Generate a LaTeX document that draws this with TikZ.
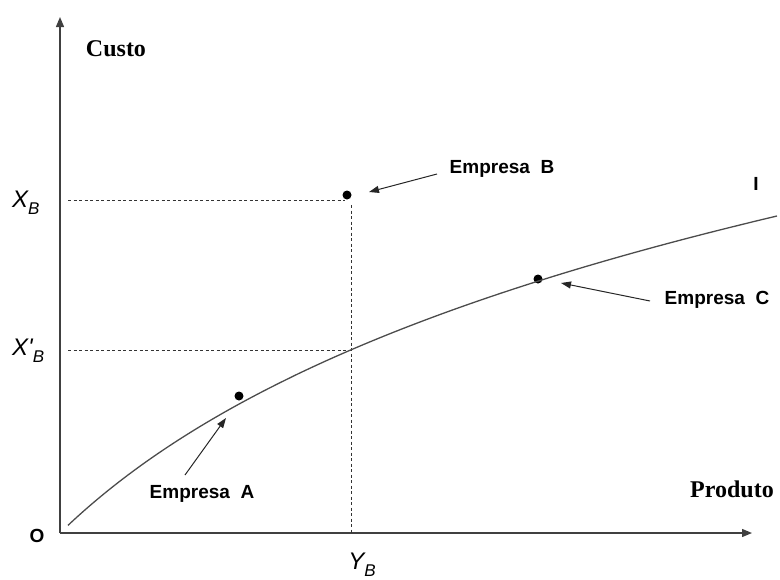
\documentclass[tikz,border=0pt]{standalone}
\usepackage{fontspec}
\setmainfont{Liberation Serif}
\newfontfamily\arialf{Liberation Sans}
\usetikzlibrary{arrows.meta}
\begin{document}
\begin{tikzpicture}[x=1pt,y=-1pt,
  axis/.style={draw=black!75, line width=1.3pt, -{Triangle[length=10pt,width=8pt]}},
  guide/.style={draw=black!80, line width=0.7pt, dash pattern=on 3pt off 2.5pt},
  curveline/.style={draw=black!70, line width=1.3pt},
  pointer/.style={draw=black!85, line width=1pt, -{Triangle[length=10pt,width=7pt]}},
  firm/.style={font=\arialf\bfseries\fontsize{19}{22}\selectfont, inner sep=0pt},
  serifl/.style={font=\bfseries\fontsize{24}{28}\selectfont, inner sep=0pt},
  mathl/.style={font=\arialf\itshape\fontsize{24}{28}\selectfont, inner sep=0pt},
  dot/.style={circle, fill=black, inner sep=0pt, minimum size=9pt}
]
\useasboundingbox (0,0) rectangle (780,579);
% axes
\coordinate (orig) at (60,533);
\coordinate (ytop) at (60,17);
\coordinate (xend) at (752,533);
\draw[axis] (orig) -- (ytop);
\draw[axis] (orig) -- (xend);
% dots
\node[dot] (pB) at (347,195) {};
\node[dot] (pC) at (538,279) {};
\node[dot] (pA) at (239,396) {};
% guide coordinates
\coordinate (gxb) at (68,200);
\coordinate (gxbe) at (345,200);
\coordinate (gxp) at (68,350);
\coordinate (gxpe) at (351,350);
\coordinate (gvt) at (351,205);
\coordinate (gvb) at (351,533);
\draw[guide] (gxb) -- (gxbe);
\draw[guide] (gxp) -- (gxpe);
\draw[guide] (gvt) -- (gvb);
% curve
\draw[curveline] plot[domain=68:777, samples=120, smooth] (\x, {533-224*ln(1+(\x-60)/230)});
% labels
\node[serifl] (custo) at (116,49) {Custo};
\node[serifl] (produto) at (732,489) {Produto};
\node[firm] (eB) at (502,169) {Empresa\ \ B};
\node[firm] (eC) at (717,300) {Empresa\ \ C};
\node[firm] (eA) at (202,494) {Empresa\ \ A};
\node[firm] (lO) at (37,536) {O};
\node[firm] (lI) at (756,184) {I};
\node[mathl, anchor=west] (xb) at (12,203) {X\raisebox{-0.3em}{\fontsize{17}{20}\selectfont B}};
\node[mathl, anchor=west] (xpb) at (12,351) {X'\raisebox{-0.3em}{\fontsize{17}{20}\selectfont B}};
\node[mathl] (yb) at (362,565) {Y\raisebox{-0.3em}{\fontsize{17}{20}\selectfont B}};
% pointers
\coordinate (tB) at (437,174);
\coordinate (hB) at (369,192);
\coordinate (tC) at (650,301);
\coordinate (hC) at (561,283);
\coordinate (tA) at (185,475);
\coordinate (hA) at (226,418);
\draw[pointer] (tB) -- (hB);
\draw[pointer] (tC) -- (hC);
\draw[pointer] (tA) -- (hA);
\end{tikzpicture}
\end{document}
